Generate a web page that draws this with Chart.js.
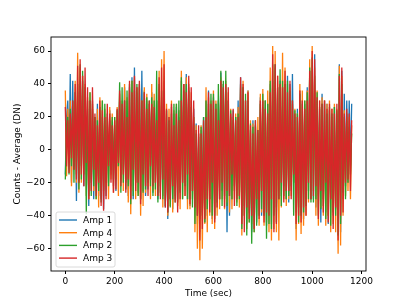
<!DOCTYPE html>
<html>
<head>
<meta charset="utf-8">
<script src="https://cdn.jsdelivr.net/npm/chart.js@4"></script>
<style>
  html, body { margin: 0; padding: 0; background: #fff; }
  #wrap { width: 407px; height: 305px; }
</style>
</head>
<body>
<div id="wrap"><canvas id="chart" width="407" height="305"></canvas></div>
<script>
const times = [0, 5, 10, 15, 20, 25, 30, 35, 40, 45, 50, 55, 60, 65, 70, 75, 80, 85, 90, 95,
  100, 105, 110, 115, 120, 125, 130, 135, 140, 145, 150, 155, 160, 165, 170, 175, 180, 185, 190, 195,
  200, 205, 210, 215, 220, 225, 230, 235, 240, 245, 250, 255, 260, 265, 270, 275, 280, 285, 290, 295,
  300, 305, 310, 315, 320, 325, 330, 335, 340, 345, 350, 355, 360, 365, 370, 375, 380, 385, 390, 395,
  400, 405, 410, 415, 420, 425, 430, 435, 440, 445, 450, 455, 460, 465, 470, 475, 480, 485, 490, 495,
  500, 505, 510, 515, 520, 525, 530, 535, 540, 545, 550, 555, 560, 565, 570, 575, 580, 585, 590, 595,
  600, 605, 610, 615, 620, 625, 630, 635, 640, 645, 650, 655, 660, 665, 670, 675, 680, 685, 690, 695,
  700, 705, 710, 715, 720, 725, 730, 735, 740, 745, 750, 755, 760, 765, 770, 775, 780, 785, 790, 795,
  800, 805, 810, 815, 820, 825, 830, 835, 840, 845, 850, 855, 860, 865, 870, 875, 880, 885, 890, 895,
  900, 905, 910, 915, 920, 925, 930, 935, 940, 945, 950, 955, 960, 965, 970, 975, 980, 985, 990, 995,
  1000, 1005, 1010, 1015, 1020, 1025, 1030, 1035, 1040, 1045, 1050, 1055, 1060, 1065, 1070, 1075, 1080, 1085, 1090, 1095,
  1100, 1105, 1110, 1115, 1120, 1125, 1130, 1135, 1140, 1145, 1150, 1155, 1160];

const amp1 = [-15, 20, 30, -8, 46, -20, 42, -10, 35, -31,
  35, -18, 40, -10, 42, -22, 30, -15, 25, -34,
  30, -20, 25, -30, 20, -15, 28, -28, 22, -30,
  20, -36, 15, -28, 12, -20, 24, -15, 18, -22,
  15, -25, 20, -10, 30, -18, 25, -12, 38, -20,
  30, -28, 38, -22, 44, -30, 50, -20, 35, -26,
  40, -30, 48, -25, 36, -28, 30, -24, 28, -18,
  35, -26, 22, -20, 30, -30, 38, -22, 32, -28,
  42, -35, 24, -42, 20, -30, 26, -36, 22, -28,
  26, -30, 20, -25, 42, -20, 40, -18, 46, -30,
  38, -34, 30, -25, 25, -28, 16, -45, 10, -50,
  12, -38, 20, -44, 30, -40, 36, -30, 25, -42,
  32, -42, 28, -35, 30, -30, 47, -25, 40, -30,
  36, -50, 30, -40, 20, -30, 24, -22, 20, -28,
  30, -20, 44, -40, 38, -34, 30, -45, 36, -38,
  12, -50, 18, -36, 15, -44, 10, -30, 32, -40,
  26, -40, 30, -46, 28, -35, 40, -45, 42, -38,
  50, -35, 38, -30, 42, -28, 38, -22, 40, -30,
  45, -32, 40, -25, 46, -20, 20, -48, 25, -35,
  36, -38, 30, -42, 28, -30, 38, -25, 48, -30,
  40, -30, 58, -35, 30, -28, 25, -44, 34, -30,
  30, -38, 28, -45, 24, -30, 20, -40, 26, -36,
  22, -40, 52, -50, 48, -30, 34, -22, 30, -20,
  30, -10, 28];

const amp4 = [36, -16, 25, -8, 30, -22, 28, -12, 42, -20,
  59, -26, 50, -20, 45, -10, 40, -28, 32, -30,
  35, -18, 28, -25, 20, -30, 25, -35, 32, -20,
  30, -28, 25, -22, 20, -30, 26, -18, 22, -26,
  20, -15, 26, -28, 34, -20, 30, -25, 40, -18,
  32, -32, 36, -39, 42, -25, 44, -30, 38, -28,
  40, -40, 30, -34, 38, -26, 34, -22, 28, -30,
  40, -25, 34, -28, 30, -20, 48, -28, 55, -35,
  60, -30, 28, -40, 25, -34, 30, -38, 24, -30,
  28, -34, 24, -36, 48, -30, 40, -28, 44, -36,
  40, -36, 35, -30, 20, -50, 15, -60, 10, -67,
  15, -60, 12, -45, 38, -50, 32, -40, 30, -45,
  36, -48, 30, -40, 28, -36, 44, -30, 40, -36,
  42, -32, 35, -38, 25, -36, 20, -30, 22, -32,
  26, -35, 38, -52, 42, -40, 30, -48, 36, -44,
  18, -45, 16, -50, 14, -40, 20, -46, 34, -38,
  37, -46, 30, -44, 36, -50, 50, -55, 63, -48,
  60, -50, 45, -55, 40, -35, 59, -30, 50, -34,
  40, -30, 38, -28, 28, -20, 25, -55, 22, -45,
  40, -51, 36, -46, 30, -40, 36, -32, 55, -30,
  63, -25, 50, -40, 36, -46, 30, -35, 32, -40,
  30, -46, 28, -40, 30, -50, 25, -45, 28, -50,
  25, -63, 51, -58, 45, -40, 24, -28, 20, -25,
  20, -30, 15];

const amp2 = [-18, 15, 20, -15, 25, -10, 30, -20, 35, -15,
  40, -24, 52, -18, 48, -15, 38, -39, 30, -28,
  35, -28, 30, -22, 20, -30, 18, -25, 26, -32,
  30, -25, 28, -20, 22, -22, 18, -12, 20, -18,
  20, -18, 24, -10, 41, -26, 38, -20, 30, -24,
  36, -22, 40, -33, 42, -28, 36, -20, 40, -28,
  38, -30, 30, -26, 35, -24, 32, -20, 30, -22,
  32, -28, 30, -24, 48, -32, 40, -26, 36, -30,
  36, -34, 24, -38, 18, -35, 22, -30, 28, -32,
  28, -32, 30, -26, 44, -30, 36, -22, 40, -30,
  36, -30, 26, -35, 20, -45, 10, -40, 8, -42,
  14, -40, 20, -44, 30, -36, 28, -30, 34, -40,
  34, -40, 28, -32, 40, -30, 48, -34, 42, -28,
  48, -34, 30, -28, 24, -30, 18, -25, 20, -34,
  22, -30, 40, -48, 38, -40, 34, -52, 30, -44,
  16, -57, 14, -50, 18, -46, 12, -40, 28, -36,
  34, -40, 30, -54, 28, -45, 42, -48, 52, -40,
  52, -44, 38, -30, 49, -34, 42, -28, 40, -30,
  42, -28, 36, -22, 30, -40, 24, -38, 22, -44,
  34, -40, 28, -38, 30, -34, 35, -30, 50, -32,
  56, -32, 45, -30, 35, -40, 26, -36, 28, -34,
  28, -42, 22, -40, 26, -46, 22, -38, 26, -40,
  24, -52, 46, -45, 40, -26, 20, -30, 22, -20,
  14, -15, 10];

const amp3 = [26, -10, 18, -14, 22, -5, 30, -12, 40, -18,
  51, -20, 55, -15, 45, -22, 50, -8, 38, -30,
  30, -25, 38, -12, 22, -28, 15, -20, 30, -34,
  24, -37, 20, -30, 28, -10, 22, -20, 15, -26,
  18, -24, 25, -8, 36, -22, 28, -15, 30, -26,
  20, -18, 42, -30, 35, -12, 45, -25, 38, -20,
  42, -33, 30, -15, 35, -22, 25, -28, 30, -10,
  28, -22, 26, -20, 18, -28, 44, -30, 50, -18,
  52, -35, 25, -38, 20, -30, 28, -22, 15, -32,
  22, -38, 18, -30, 30, -20, 40, -28, 35, -15,
  45, -33, 38, -25, 30, -35, 12, -40, 15, -55,
  10, -48, 18, -42, 20, -30, 35, -38, 28, -20,
  30, -44, 25, -35, 18, -30, 42, -20, 38, -35,
  40, -25, 38, -28, 22, -15, 25, -34, 18, -30,
  20, -28, 44, -45, 40, -50, 30, -35, 35, -42,
  15, -40, 10, -48, 18, -30, 12, -42, 30, -25,
  30, -44, 25, -38, 22, -40, 35, -30, 58, -50,
  52, -45, 45, -30, 40, -20, 38, -32, 48, -25,
  35, -25, 42, -30, 30, -15, 22, -45, 20, -40,
  36, -44, 30, -35, 25, -40, 30, -20, 48, -30,
  60, -28, 55, -22, 32, -42, 30, -25, 28, -38,
  30, -20, 25, -44, 28, -30, 25, -48, 22, -35,
  28, -55, 45, -40, 50, -38, 22, -20, 25, -18,
  22, -25, 18];

const xTicks = [0, 200, 400, 600, 800, 1000, 1200];
const yTicks = [-60, -40, -20, 0, 20, 40, 60];

const series = [
  { label: 'Amp 1', values: amp1, color: '#1f77b4', order: 4 },
  { label: 'Amp 4', values: amp4, color: '#ff7f0e', order: 3 },
  { label: 'Amp 2', values: amp2, color: '#2ca02c', order: 2 },
  { label: 'Amp 3', values: amp3, color: '#d62728', order: 1 }
];

const font = { family: 'DejaVu Sans', size: 9 };

// frame + legend box like matplotlib
const framePlugin = {
  id: 'frame',
  afterDraw(c) {
    const a = c.chartArea;
    const ctx = c.ctx;
    ctx.save();
    ctx.strokeStyle = '#000';
    ctx.lineWidth = 0.9;
    ctx.strokeRect(a.left, a.top, a.right - a.left, a.bottom - a.top);

    const bx = a.left + 5, bw = 59, bh = 55, by = a.bottom - 4 - bh;
    ctx.fillStyle = 'rgba(255,255,255,0.8)';
    ctx.strokeStyle = '#d0d0d0';
    ctx.lineWidth = 0.8;
    ctx.beginPath();
    ctx.roundRect(bx, by, bw, bh, 2);
    ctx.fill();
    ctx.stroke();

    ctx.font = '9px "DejaVu Sans"';
    ctx.textBaseline = 'middle';
    ctx.fillStyle = '#000';
    c.data.datasets.forEach((ds, i) => {
      const y = by + 8 + i * 12.7;
      ctx.strokeStyle = ds.borderColor;
      ctx.lineWidth = 1.4;
      ctx.beginPath();
      ctx.moveTo(bx + 3, y);
      ctx.lineTo(bx + 21, y);
      ctx.stroke();
      ctx.fillText(ds.label, bx + 27, y + 0.5);
    });
    ctx.restore();
  }
};

new Chart(document.querySelector('#chart').getContext('2d'), {
  type: 'line',
  data: {
    datasets: series.map(s => ({
      label: s.label,
      data: times.map((t, i) => ({ x: t, y: s.values[i] })),
      borderColor: s.color,
      borderWidth: 1.3,
      pointRadius: 0,
      tension: 0,
      order: s.order
    }))
  },
  options: {
    responsive: false,
    animation: false,
    layout: { padding: { left: 0, right: 41, top: 37, bottom: 0 } },
    plugins: { legend: { display: false }, tooltip: { enabled: false } },
    scales: {
      x: {
        type: 'linear',
        min: -58,
        max: 1218,
        afterBuildTicks: s => { s.ticks = xTicks.map(v => ({ value: v })); },
        afterFit: s => { s.height = 34; },
        grid: { drawOnChartArea: false, drawTicks: true, tickLength: 3, color: '#000' },
        border: { display: false },
        ticks: { font: font, color: '#000', padding: 2, maxRotation: 0, callback: v => String(v) },
        title: { display: true, text: 'Time (sec)', font: font, color: '#000', padding: { top: 0, bottom: 6 } }
      },
      y: {
        min: -73.5,
        max: 68.5,
        afterBuildTicks: s => { s.ticks = yTicks.map(v => ({ value: v })); },
        afterFit: s => { s.width = 51; },
        grid: { drawOnChartArea: false, drawTicks: true, tickLength: 3, color: '#000' },
        border: { display: false },
        ticks: { font: font, color: '#000', padding: 3, callback: v => String(v).replace('-', '\u2212') },
        title: { display: true, text: 'Counts - Average (DN)', font: font, color: '#000', padding: { top: 12, bottom: 0 } }
      }
    }
  },
  plugins: [framePlugin]
});
</script>
</body>
</html>
